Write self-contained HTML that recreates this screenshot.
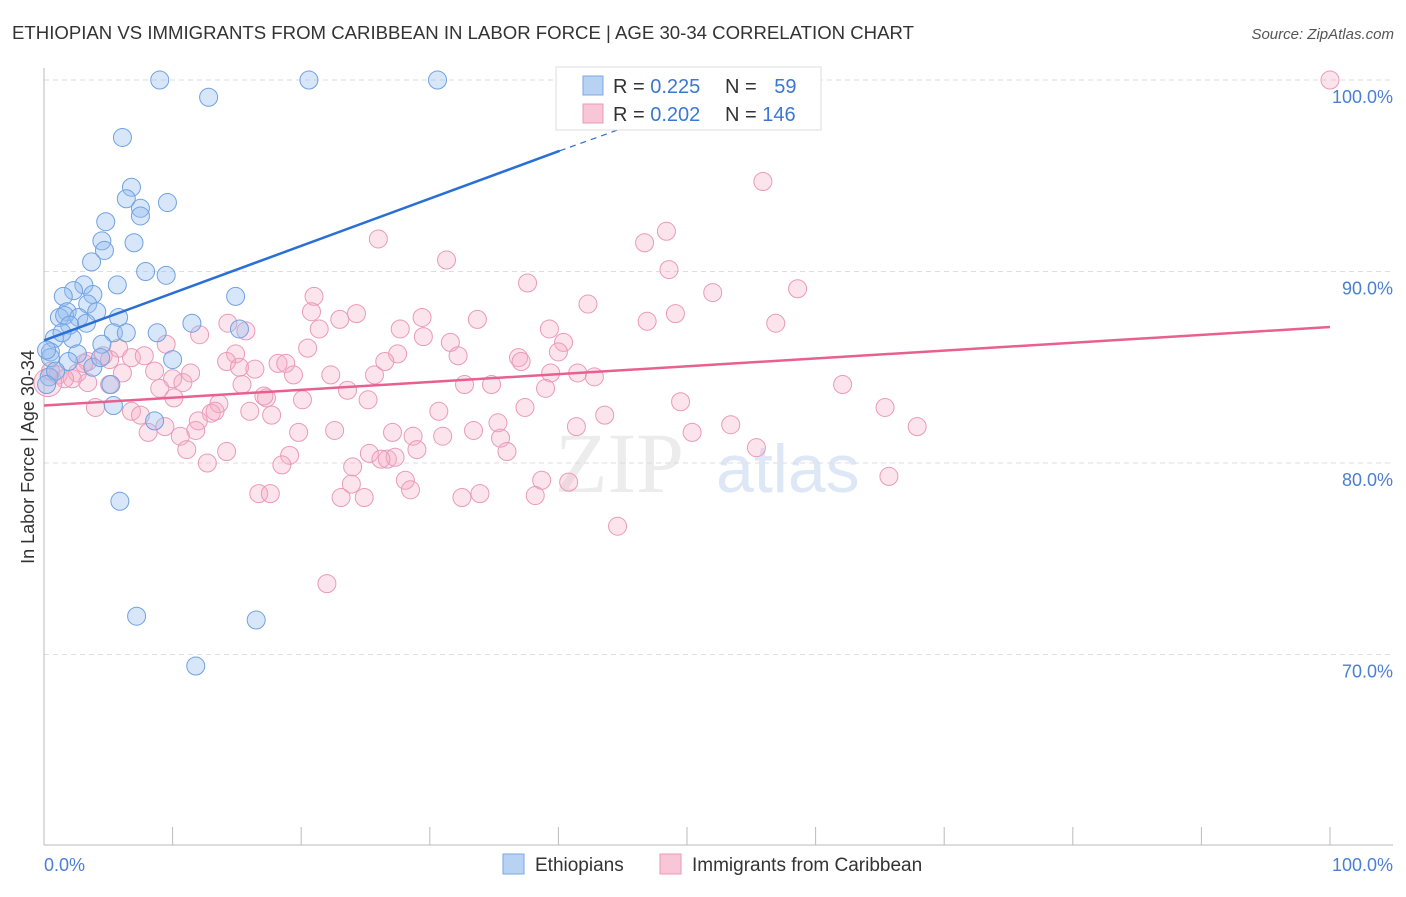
<!DOCTYPE html>
<html><head><meta charset="utf-8"><style>
body{margin:0;background:#fff;font-family:"Liberation Sans",sans-serif}
</style></head><body>
<svg id="c" width="1406" height="892" xmlns="http://www.w3.org/2000/svg">
<text x="12" y="39" font-size="18.6" fill="#333">ETHIOPIAN VS IMMIGRANTS FROM CARIBBEAN IN LABOR FORCE | AGE 30-34 CORRELATION CHART</text>
<text x="1394" y="39" font-size="15" fill="#555" font-style="italic" text-anchor="end">Source: ZipAtlas.com</text>
<text x="34" y="457" font-size="18" fill="#333" text-anchor="middle" transform="rotate(-90 34 457)">In Labor Force | Age 30-34</text>
<text x="555" y="492" font-size="86" fill="#ececec" font-family="Liberation Serif,serif">ZIP</text>
<text x="716" y="492" font-size="68" fill="#dde7f6">atlas</text>
<g id="grid"></g><g id="pts"></g><g id="lines"></g>
<g>
<rect x="556" y="67" width="265" height="63" fill="#fff" stroke="#ddd"/>
<rect x="583" y="76" width="20" height="19" fill="#b8d2f4" stroke="#7aa7e4"/>
<rect x="583" y="104" width="20" height="19" fill="#f8c6d6" stroke="#ea9ab6"/>
<text x="613" y="93" font-size="20" fill="#333">R = <tspan fill="#3a78d4">0.225</tspan></text>
<text x="725" y="93" font-size="20" fill="#333">N = <tspan fill="#3a78d4" dx="12">59</tspan></text>
<text x="613" y="121" font-size="20" fill="#333">R = <tspan fill="#3a78d4">0.202</tspan></text>
<text x="725" y="121" font-size="20" fill="#333">N = <tspan fill="#3a78d4">146</tspan></text>
</g>
<g>
<rect x="503" y="854" width="21" height="20" fill="#b8d2f4" stroke="#7aa7e4"/>
<text x="535" y="871" font-size="19" fill="#333">Ethiopians</text>
<rect x="660" y="854" width="21" height="20" fill="#f8c6d6" stroke="#ea9ab6"/>
<text x="692" y="871" font-size="19" fill="#333">Immigrants from Caribbean</text>
</g>
</svg>
<script>
const yTicks=[100,90,80,70];
const xTicks=[0,10,20,30,40,50,60,70,80,90,100];
const blueX=[9.0,20.6,30.6,12.8,6.1,6.8,6.4,7.5,7.5,9.6,4.8,4.5,4.7,7.0,3.7,7.9,9.5,5.7,3.1,2.3,1.5,3.8,14.9,3.4,1.8,4.1,1.2,1.6,2.7,5.8,3.3,2.0,11.5,8.8,15.2,5.4,6.4,0.8,2.2,4.5,0.5,2.6,10.0,1.9,0.5,3.8,0.4,0.9,5.2,5.4,8.6,5.9,7.2,16.5,11.8,0.2,1.4,4.4,0.2];
const blueY=[100,100,100,99.1,97.0,94.4,93.8,93.3,92.9,93.6,92.6,91.6,91.1,91.5,90.5,90.0,89.8,89.3,89.3,89.0,88.7,88.8,88.7,88.3,87.9,87.9,87.6,87.7,87.6,87.6,87.3,87.2,87.3,86.8,87.0,86.8,86.8,86.5,86.5,86.2,85.8,85.7,85.4,85.3,85.5,85.0,84.5,84.8,84.1,83.0,82.2,78.0,72.0,71.8,69.4,84.1,86.8,85.5,85.9];
const pinkX=[100,55.9,48.4,46.7,26.0,31.3,48.6,37.6,21.0,42.3,58.6,52.0,20.8,24.3,23.0,29.4,33.7,49.1,46.9,14.3,15.7,21.4,27.7,29.5,39.3,40.4,56.9,12.1,20.5,9.5,31.6,40.0,14.9,18.2,18.8,27.5,32.2,5.8,4.6,6.8,7.8,14.2,15.2,16.4,19.4,22.3,25.7,26.5,36.9,37.1,39.4,41.5,42.8,3.4,2.6,1.1,2.2,1.6,0.5,8.6,11.4,10.0,6.1,3.4,5.1,10.8,15.4,9.0,10.1,32.7,34.8,39.0,62.1,17.3,23.6,25.2,20.1,13.6,17.1,4.0,6.8,16.0,17.7,13.0,13.3,12.0,7.5,30.7,35.3,37.4,49.5,43.6,65.4,41.4,53.4,67.9,9.4,11.8,22.6,8.1,10.6,19.8,27.1,28.7,31.0,33.4,35.5,50.4,11.1,14.2,19.1,25.3,26.7,27.3,29.0,36.0,55.4,12.7,18.5,24.0,26.2,28.1,23.9,28.5,38.7,40.8,65.7,16.7,17.6,23.1,24.9,32.5,33.9,38.2,44.6,22.0,3.1,5.1,0.3];
const pinkY=[100,94.7,92.1,91.5,91.7,90.6,90.1,89.4,88.7,88.3,89.1,88.9,87.9,87.8,87.5,87.6,87.5,87.8,87.4,87.3,86.9,87.0,87.0,86.6,87.0,86.3,87.3,86.7,86.0,86.2,86.3,85.8,85.7,85.2,85.2,85.7,85.6,86.0,85.6,85.5,85.6,85.3,85.0,84.9,84.6,84.6,84.6,85.3,85.5,85.3,84.7,84.7,84.5,85.3,84.7,84.6,84.4,84.4,84.8,84.8,84.7,84.4,84.7,84.2,84.1,84.2,84.1,83.9,83.4,84.1,84.1,83.9,84.1,83.4,83.8,83.3,83.3,83.1,83.5,82.9,82.7,82.7,82.5,82.6,82.7,82.2,82.5,82.7,82.1,82.9,83.2,82.5,82.9,81.9,82.0,81.9,81.9,81.7,81.7,81.6,81.4,81.6,81.6,81.4,81.4,81.7,81.3,81.6,80.7,80.6,80.4,80.5,80.2,80.3,80.7,80.6,80.8,80.0,79.9,79.8,80.2,79.1,78.9,78.6,79.1,79.0,79.3,78.4,78.4,78.2,78.2,78.2,78.4,78.3,76.7,73.7,85.2,85.4,84.2];
const blueTrend=[86.4,96.3,97.8]; const blueTrendX=[0,40.1,46.3];
const pinkTrend=[83.0,87.1];
const NS='http://www.w3.org/2000/svg';
const sx=v=>44+v*12.86, sy=v=>80+(100-v)*19.15;
function mk(t,a,p){const e=document.createElementNS(NS,t);for(const k in a)e.setAttribute(k,a[k]);p.appendChild(e);return e;}
const svg=document.getElementById('c'),grid=document.getElementById('grid'),pts=document.getElementById('pts'),lines=document.getElementById('lines');
yTicks.forEach(t=>{
 const l=mk('line',{x1:44,x2:1393,y1:sy(t),y2:sy(t),stroke:'#ddd','stroke-dasharray':'5,4'},grid);
 
 
 const tx=mk('text',{x:1393,y:sy(t)+23,'font-size':18,fill:'#4a7fd4','text-anchor':'end'},grid);
 tx.textContent=t.toFixed(1)+'%';
 
 
});
const ya=mk('line',{x1:44,x2:44,y1:68,y2:845,stroke:'#bbb'},grid);


const xa=mk('line',{x1:44,x2:1393,y1:845,y2:845,stroke:'#bbb'},grid);


xTicks.forEach(t=>{
 const l=mk('line',{x1:sx(t),x2:sx(t),y1:827,y2:845,stroke:'#bbb'},grid);
 
 
});
[[0,'start','0.0%'],[100,'end','100.0%']].forEach(([v,a,s])=>{
 const tx=mk('text',{x:v===0?44:1393,y:871,'font-size':18,fill:'#4a7fd4','text-anchor':a},grid);
 tx.textContent=s;
 
 
});
pinkX.forEach((x,i)=>{
 const r=i===pinkX.length-1?14:9;
 const c=mk('circle',{cx:sx(x),cy:sy(pinkY[i]),r:r,fill:'rgba(246,170,196,0.32)',stroke:'#ea9ab8','stroke-width':1},pts);
 
 
});
blueX.forEach((x,i)=>{
 const c=mk('circle',{cx:sx(x),cy:sy(blueY[i]),r:9,fill:'rgba(150,190,240,0.38)',stroke:'#70a2e2','stroke-width':1},pts);
 
 
});
const bl=mk('line',{x1:sx(blueTrendX[0]),y1:sy(blueTrend[0]),x2:sx(blueTrendX[1]),y2:sy(blueTrend[1]),stroke:'#2a6fd6','stroke-width':2.5},lines);


const bd=mk('line',{x1:sx(blueTrendX[1]),y1:sy(blueTrend[1]),x2:sx(blueTrendX[2]),y2:sy(blueTrend[2]),stroke:'#2a6fd6','stroke-width':1.2,'stroke-dasharray':'6,5'},lines);


const pl=mk('line',{x1:sx(0),y1:sy(pinkTrend[0]),x2:sx(100),y2:sy(pinkTrend[1]),stroke:'#e8608f','stroke-width':2.5},lines);


</script>
</body></html>
